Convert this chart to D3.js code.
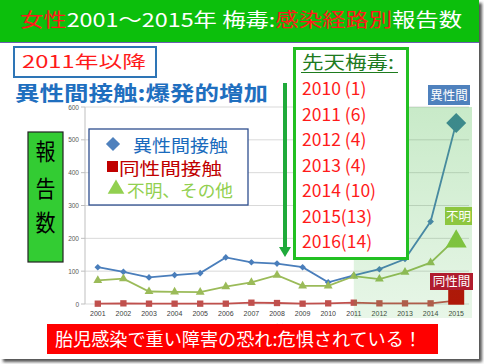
<!DOCTYPE html>
<html><head><meta charset="utf-8">
<script src="https://cdn.jsdelivr.net/npm/d3@7"></script>
<style>
html,body{margin:0;padding:0;background:#fff;}
svg{display:block;font-family:"Noto Sans CJK JP","Noto Sans",sans-serif;}
</style></head>
<body><svg id="c" width="484" height="364"></svg>
<script>
const years = ["2001","2002","2003","2004","2005","2006","2007","2008","2009","2010","2011","2012","2013","2014","2015"];
const hetero = [112, 98, 81, 88, 94, 142, 127, 123, 112, 66, 87, 106, 137, 251, 551];
const homo = [1, 2, 1, 1, 1, 1, 4, 3, 1, 2, 4, 2, 2, 2, 10];
const unknown = [72, 77, 38, 37, 36, 53, 66, 88, 55, 55, 85, 76, 97, 126, 200];
const yTicks = [0, 100, 200, 300, 400, 500, 600];
const congenital = ["2010 (1)","2011 (6)","2012 (4)","2013 (4)","2014 (10)","2015(13)","2016(14)"];
const seriesNames = ["異性間接触","同性間接触","不明、その他"];
const endLabels = ["異性間","不明","同性間"];

const svg = d3.select("#c");
const defs = svg.append("defs");
const sh = defs.append("filter").attr("id","blur").attr("x","-10%").attr("y","-10%").attr("width","120%").attr("height","120%");
sh.append("feGaussianBlur").attr("stdDeviation",1.5);
const g1 = defs.append("linearGradient").attr("id","shade").attr("x1",0).attr("y1",0).attr("x2",0).attr("y2",1);
g1.append("stop").attr("offset","0%").attr("stop-color","#3cb43c").attr("stop-opacity",0.28);
g1.append("stop").attr("offset","100%").attr("stop-color","#3cb43c").attr("stop-opacity",0.12);

// slide shadow + background
svg.append("rect").attr("x",3).attr("y",3).attr("width",479).attr("height",359).attr("fill","#555").attr("filter","url(#blur)");
svg.append("rect").attr("x",0).attr("y",0).attr("width",479).attr("height",359).attr("fill","#fff");

// title banner
svg.append("rect").attr("x",0).attr("y",0).attr("width",479).attr("height",42).attr("fill","#0cbf0c");
svg.append("rect").attr("x",0).attr("y",42).attr("width",479).attr("height",1).attr("fill","#6a5fb0");
const title = svg.append("text").attr("x",20).attr("y",27).attr("font-size",19)
  .attr("textLength",442).attr("lengthAdjust","spacingAndGlyphs");
[["女性","#ff1a1a"],["2001～2015年 梅毒:","#fff"],["感染経路別","#ff1a1a"],["報告数","#fff"]]
  .forEach(([t,c])=>title.append("tspan").attr("fill",c).text(t));

// scales
const x = d3.scaleBand().domain(years).range([85,469]);
const cx = d => x(d) + x.bandwidth()/2;
const y = d3.scaleLinear().domain([0,600]).range([304,107]);

// grid
const plot = svg.append("g");
plot.selectAll("line.grid").data(yTicks).join("line")
  .attr("x1",85).attr("x2",469).attr("y1",d=>y(d)).attr("y2",d=>y(d))
  .attr("stroke","#d9d9d9").attr("stroke-width",1);
plot.append("line").attr("x1",85).attr("x2",85).attr("y1",y(600)).attr("y2",y(0)).attr("stroke","#bfbfbf");
plot.selectAll("line.tk").data(yTicks).join("line")
  .attr("x1",81).attr("x2",85).attr("y1",d=>y(d)).attr("y2",d=>y(d)).attr("stroke","#bfbfbf");
plot.selectAll("text.yl").data(yTicks).join("text")
  .attr("x",79).attr("y",d=>y(d)+2.5).attr("text-anchor","end").attr("font-size",6.5)
  .attr("fill","#595959").attr("font-family","Liberation Sans, sans-serif").text(d=>d);
plot.selectAll("text.xl").data(years).join("text")
  .attr("x",d=>cx(d)).attr("y",316).attr("text-anchor","middle").attr("font-size",7)
  .attr("fill","#404040").attr("font-family","Liberation Sans, sans-serif").text(d=>d);
plot.append("text").attr("x",277).attr("y",330).attr("text-anchor","middle").attr("font-size",7).attr("fill","#595959").text("報告年");

// lines
const line = d3.line().x((d,i)=>cx(years[i])).y(d=>y(d));
const cols = {h:"#4a7ebb", m:"#c0504d", u:"#9bbb59"};
plot.append("path").datum(homo).attr("d",line).attr("fill","none").attr("stroke",cols.m).attr("stroke-width",1.8);
plot.append("path").datum(unknown).attr("d",line).attr("fill","none").attr("stroke",cols.u).attr("stroke-width",1.8);
plot.append("path").datum(hetero).attr("d",line).attr("fill","none").attr("stroke",cols.h).attr("stroke-width",1.8);
const last = years.length-1;
const sym = (type,size)=>d3.symbol().type(type).size(size)();
plot.selectAll("path.hm").data(hetero.slice(0,last)).join("path")
  .attr("transform",(d,i)=>`translate(${cx(years[i])},${y(d)}) rotate(45)`)
  .attr("d",sym(d3.symbolSquare,22)).attr("fill",cols.h);
plot.selectAll("path.mm").data(homo.slice(0,last)).join("path")
  .attr("transform",(d,i)=>`translate(${cx(years[i])},${y(d)})`)
  .attr("d",sym(d3.symbolSquare,40)).attr("fill",cols.m);
plot.selectAll("path.um").data(unknown.slice(0,last)).join("path")
  .attr("transform",(d,i)=>`translate(${cx(years[i])},${y(d)})`)
  .attr("d",sym(d3.symbolTriangle,34)).attr("fill",cols.u);
// big end markers
plot.append("path").attr("transform",`translate(${cx(years[last])},${y(hetero[last])}) rotate(45)`)
  .attr("d",sym(d3.symbolSquare,200)).attr("fill","#3d7aa8");
plot.append("path").attr("transform",`translate(${cx(years[last])},${y(unknown[last])+3})`)
  .attr("d",sym(d3.symbolTriangle,190)).attr("fill","#8cc63f");
plot.append("path").attr("transform",`translate(${cx(years[last])},${y(homo[last])-4})`)
  .attr("d",sym(d3.symbolSquare,256)).attr("fill","#c00000");

// green shading 2011+
svg.append("rect").attr("x",cx("2011")).attr("y",y(600)).attr("width",472-cx("2011")).attr("height",318-y(600))
  .attr("fill","url(#shade)");

// end labels
const lbl = [[endLabels[0],428,85,42,20,"#4f81bd"],[endLabels[1],445,207,27,18,"#8dc63f"],[endLabels[2],430,273,43,17,"#b01c2e"]];
lbl.forEach(([t,lx,ly,w,h,c])=>{
  svg.append("rect").attr("x",lx).attr("y",ly).attr("width",w).attr("height",h).attr("fill",c);
  svg.append("text").attr("x",lx+w/2).attr("y",ly+h/2+4.5).attr("text-anchor","middle").attr("font-size",12.5).attr("fill","#fff").text(t);
});

// 2011年以降 box
svg.append("rect").attr("x",14).attr("y",47).attr("width",142).attr("height",30).attr("fill","#fff").attr("stroke","#2e75b6").attr("stroke-width",2);
svg.append("text").attr("x",22).attr("y",68).attr("font-size",17).attr("fill","#ff1a1a")
  .attr("textLength",124).attr("lengthAdjust","spacingAndGlyphs").text("2011年以降");
svg.append("text").attr("x",15).attr("y",101).attr("font-size",20.5).attr("font-weight","bold").attr("fill","#1f6fbf")
  .attr("textLength",253).attr("lengthAdjust","spacingAndGlyphs").text("異性間接触:爆発的増加");

// arrow
svg.append("rect").attr("x",283).attr("y",83).attr("width",4).attr("height",166).attr("fill","#1faa3a");
svg.append("path").attr("d","M279,247 L291,247 L285,257 Z").attr("fill","#1faa3a");

// congenital box
svg.append("rect").attr("x",294.5).attr("y",48.5).attr("width",113).attr("height",210).attr("fill","#fff").attr("stroke","#22c022").attr("stroke-width",3);
svg.append("text").attr("x",302).attr("y",69).attr("font-size",18).attr("fill","#1e7b1e")
  .attr("textLength",92).attr("lengthAdjust","spacingAndGlyphs").text("先天梅毒:");
svg.append("line").attr("x1",301).attr("x2",398).attr("y1",72.5).attr("y2",72.5).attr("stroke","#1e7b1e").attr("stroke-width",1.2);
svg.selectAll("text.cg").data(congenital).join("text")
  .attr("x",302).attr("y",(d,i)=>95+i*25.5).attr("font-size",17.5).attr("fill","#ff1a1a").text(d=>d);

// legend
svg.append("rect").attr("x",89).attr("y",129).attr("width",159).attr("height",76).attr("fill","#fff").attr("stroke","#2f4f8f").attr("stroke-width",1.3);
svg.append("path").attr("transform","translate(113,144) rotate(45)").attr("d",sym(d3.symbolSquare,100)).attr("fill","#4f81bd");
svg.append("rect").attr("x",107).attr("y",161).attr("width",11).attr("height",11).attr("fill","#c00000");
svg.append("path").attr("transform","translate(116,189)").attr("d",sym(d3.symbolTriangle,120)).attr("fill","#92d050");
const lt = [[seriesNames[0],133,151.5,"#1a6bbd",95],[seriesNames[1],119,174.5,"#c00000",103],[seriesNames[2],127,197,"#92d050",106]];
lt.forEach(([t,lx,ly,c,w])=>svg.append("text").attr("x",lx).attr("y",ly).attr("font-size",17).attr("fill",c)
  .attr("textLength",w).attr("lengthAdjust","spacingAndGlyphs").text(t));

// 報告数 box
svg.append("rect").attr("x",28).attr("y",132).attr("width",35).attr("height",130).attr("fill","#33cc33").attr("stroke","#222").attr("stroke-width",1.2);
["報","告","数"].forEach((t,i)=>svg.append("text").attr("transform",`translate(45.5,${[160,197,231][i]}) scale(1,1.15)`)
  .attr("text-anchor","middle").attr("font-size",20).attr("fill","#000").text(t));

// bottom red banner
svg.append("rect").attr("x",47).attr("y",324).attr("width",391).attr("height",30).attr("fill","#ff0000");
svg.append("text").attr("x",55).attr("y",346).attr("font-size",18).attr("fill","#fff")
  .attr("textLength",367).attr("lengthAdjust","spacingAndGlyphs").text("胎児感染で重い障害の恐れ:危惧されている！");
</script></body></html>
